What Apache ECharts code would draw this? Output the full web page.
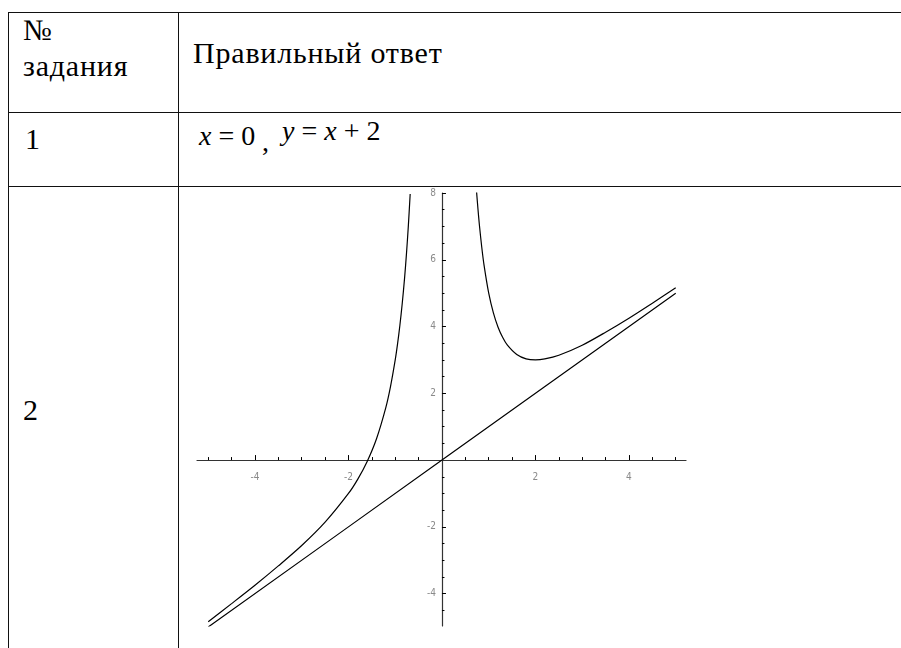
<!DOCTYPE html>
<html>
<head>
<meta charset="utf-8">
<script src="https://cdn.jsdelivr.net/npm/echarts@6/dist/echarts.min.js"></script>
<style>
  body { margin: 0; background: #fff; }
  #page { position: relative; width: 901px; height: 648px; overflow: hidden; }
  .hl, .vl { position: absolute; background: #111; }
  .hl { height: 1px; left: 8px; right: 0; }
  .vl { width: 1px; top: 12px; bottom: 0; }
  .t { position: absolute; font-family: 'Liberation Serif', 'Times New Roman', Tinos, 'DejaVu Serif', serif; font-size: 30px; letter-spacing: 0.8px; line-height: 1; white-space: nowrap; color: #000; }
  .f { font-size: 28px; letter-spacing: 0; }
  #chart { position: absolute; left: 0; top: 0; width: 901px; height: 648px; }
</style>
</head>
<body>
<div id="page">
  <div class="hl" style="top:12px"></div>
  <div class="hl" style="top:112px"></div>
  <div class="hl" style="top:186px"></div>
  <div class="vl" style="left:8px"></div>
  <div class="vl" style="left:178px"></div>

  <div class="t" style="left:23px; top:15px">№</div>
  <div class="t" style="left:23px; top:51px">задания</div>
  <div class="t" style="left:193px; top:38px">Правильный ответ</div>
  <div class="t" style="left:25px; top:124px">1</div>
  <div class="t f" style="left:199px; top:122px"><i>x</i> = 0</div>
  <div class="t f" style="left:262px; top:128px">,</div>
  <div class="t f" style="left:282px; top:117px"><i>y</i> = <i>x</i> + 2</div>
  <div class="t" style="left:23px; top:395px">2</div>

  <div id="chart"></div>
</div>
<script>
// левая ветвь графика
const leftX = [-5.0, -4.5, -4.0, -3.5, -3.0, -2.5, -2.0, -1.8, -1.6, -1.4, -1.2, -1.1, -1.0, -0.95, -0.9, -0.85, -0.8, -0.76, -0.72, -0.68];
const leftY = [-4.84, -4.30, -3.75, -3.17, -2.56, -1.86, -1.00, -0.57, -0.04, 0.64, 1.58, 2.21, 3.00, 3.48, 4.04, 4.69, 5.45, 6.17, 7.00, 7.97];
// правая ветвь
const rightX = [0.74, 0.77, 0.8, 0.85, 0.9, 1.0, 1.1, 1.2, 1.3, 1.4, 1.6, 1.8, 2.0, 2.2, 2.5, 3.0, 3.5, 4.0, 4.5, 5.0];
const rightY = [8.04, 7.52, 7.05, 6.39, 5.84, 5.00, 4.41, 3.98, 3.67, 3.44, 3.16, 3.03, 3.00, 3.03, 3.14, 3.44, 3.83, 4.25, 4.70, 5.16];
// асимптота
const lineX = [-5, 0, 5];
const lineY = [-5, 0, 5];

// деления осей
const xMajor = [-4, -2, 2, 4];
const xMinor = [-5, -4.5, -3.5, -3, -2.5, -1.5, -1, -0.5, 0.5, 1, 1.5, 2.5, 3, 3.5, 4.5, 5];
const yMajor = [-4, -2, 2, 4, 6, 8];
const yMinor = [-4.5, -3.5, -3, -2.5, -1.5, -1, -0.5, 0.5, 1, 1.5, 2.5, 3, 3.5, 4.5, 5, 5.5, 6.5, 7, 7.5];

const xRange = [-5.24, 5.22];
const yRange = [-4.97, 8];

const pairs = (xs, ys) => xs.map((x, i) => [x, ys[i]]);

const chart = echarts.init(document.getElementById('chart'));

const axisColor = '#333';
const labelStyle = {
    color: '#8a8a8a',
    fontSize: 10,
    fontFamily: '"Liberation Sans Narrow", "DejaVu Sans Condensed", "Liberation Sans", sans-serif'
};

function curve(data) {
    return {
        type: 'line',
        data: data,
        xAxisIndex: 0,
        yAxisIndex: 0,
        showSymbol: false,
        smooth: 0.3,
        lineStyle: { color: '#000', width: 1.2 },
        silent: true
    };
}

function xAxisOf(ticks, len, withLine) {
    return {
        type: 'value',
        min: xRange[0],
        max: xRange[1],
        position: 'bottom',
        axisLine: { show: withLine, onZero: false, lineStyle: { color: axisColor, width: 1.2 } },
        axisTick: { inside: true, length: len, customValues: ticks, lineStyle: { color: '#000' } },
        axisLabel: withLine ? Object.assign({ customValues: ticks, margin: 12 }, labelStyle) : { show: false },
        splitLine: { show: false }
    };
}

function yAxisOf(ticks, len, withLine) {
    return {
        type: 'value',
        min: yRange[0],
        max: yRange[1],
        position: 'left',
        axisLine: { show: withLine, onZero: false, lineStyle: { color: axisColor, width: 1.2 } },
        axisTick: { inside: true, length: len, customValues: ticks, lineStyle: { color: '#000' } },
        axisLabel: withLine ? Object.assign({ customValues: ticks, margin: 6 }, labelStyle) : { show: false },
        splitLine: { show: false }
    };
}

const option = {
    animation: false,
    grid: { left: 197, right: 215, top: 193, bottom: 22 },
    xAxis: [xAxisOf(xMajor, 5, true), xAxisOf(xMinor, 3, false)],
    yAxis: [yAxisOf(yMajor, 4, true), yAxisOf(yMinor, 2.5, false)],
    series: [
        curve(pairs(leftX, leftY)),
        curve(pairs(rightX, rightY)),
        curve(pairs(lineX, lineY))
    ]
};

chart.setOption(option);

// оси проходят через ноль: сдвигаем их на положение нуля по шкале
const zeroY = chart.convertToPixel({ yAxisIndex: 0 }, 0);
const bottomY = chart.convertToPixel({ yAxisIndex: 0 }, yRange[0]);
const zeroX = chart.convertToPixel({ xAxisIndex: 0 }, 0);
const leftPx = chart.convertToPixel({ xAxisIndex: 0 }, xRange[0]);
const dy = -(bottomY - zeroY);
const dx = -(zeroX - leftPx);
chart.setOption({
    xAxis: [{ offset: dy }, { offset: dy }],
    yAxis: [{ offset: dx }, { offset: dx }]
});
</script>
</body>
</html>
